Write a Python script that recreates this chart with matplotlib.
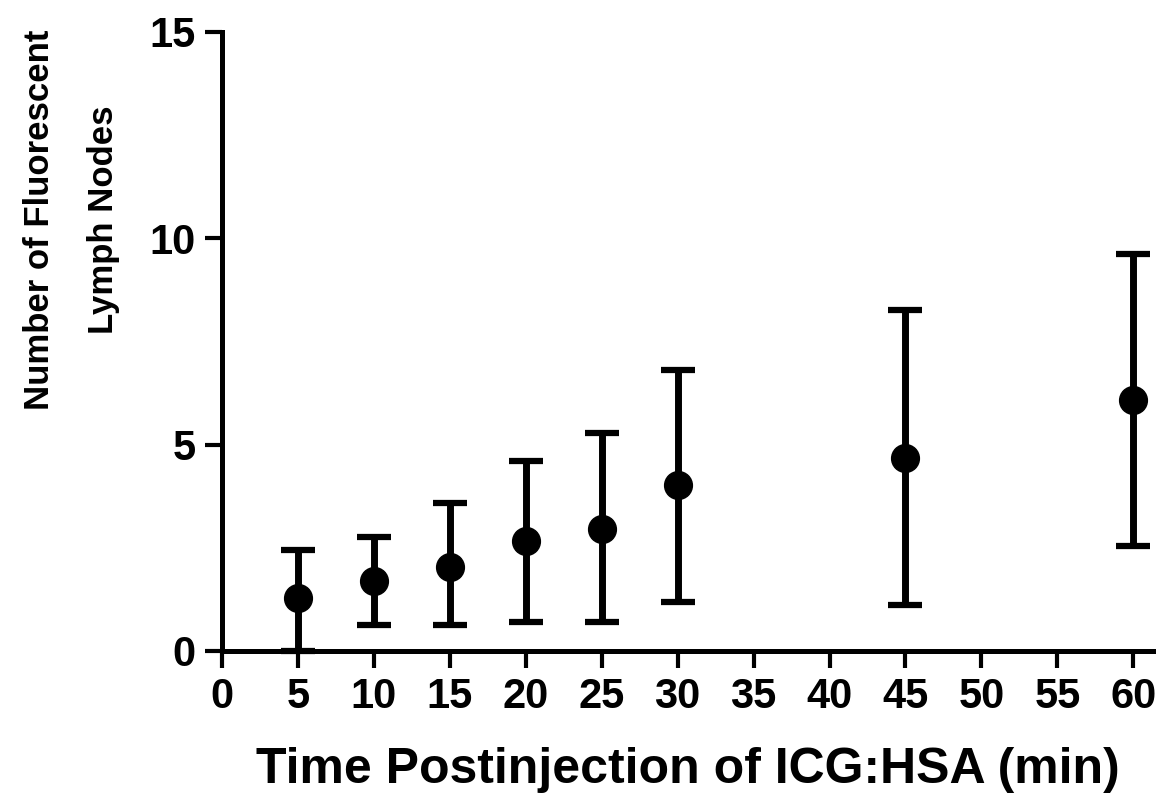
import matplotlib.pyplot as plt

plt.rcParams["font.family"] = ["Liberation Sans", "DejaVu Sans"]
plt.rcParams["font.weight"] = "bold"

# time points and values
time_min = [5, 10, 15, 20, 25, 30, 45, 60]
mean_nodes = [1.28, 1.70, 2.04, 2.67, 2.96, 4.02, 4.68, 6.08]
upper_bar = [2.45, 2.76, 3.59, 4.60, 5.28, 6.81, 8.26, 9.62]
lower_bar = [0.00, 0.63, 0.63, 0.70, 0.70, 1.19, 1.11, 2.54]

err_low = [m - l for m, l in zip(mean_nodes, lower_bar)]
err_high = [u - m for u, m in zip(upper_bar, mean_nodes)]

fig = plt.figure(figsize=(11.7, 7.96), dpi=100)
ax = fig.add_axes([0.1897, 0.1822, 0.7958, 0.7776])

ax.errorbar(time_min, mean_nodes, yerr=[err_low, err_high], fmt="o",
            color="black", markersize=20, elinewidth=5, capsize=12.5,
            capthick=4.5, clip_on=False, zorder=3)

ax.set_xlim(0, 61.3)
ax.set_ylim(0, 15)
ax.set_xticks(range(0, 61, 5))
ax.set_yticks([0, 5, 10, 15])

for s in ["top", "right"]:
    ax.spines[s].set_visible(False)
for s in ["left", "bottom"]:
    ax.spines[s].set_linewidth(3.6)

ax.tick_params(axis="both", width=3, length=12, labelsize=30, pad=7)

ax.set_xlabel("Time Postinjection of ICG:HSA (min)", fontsize=36,
              fontweight="bold", labelpad=21)
ax.set_ylabel("Number of Fluorescent\nLymph Nodes", fontsize=25,
              fontweight="bold", linespacing=2.2)
ax.yaxis.label.set_va("center")
ax.yaxis.set_label_coords(-0.162, 0.696)

fig.savefig("out.png", dpi=100)
